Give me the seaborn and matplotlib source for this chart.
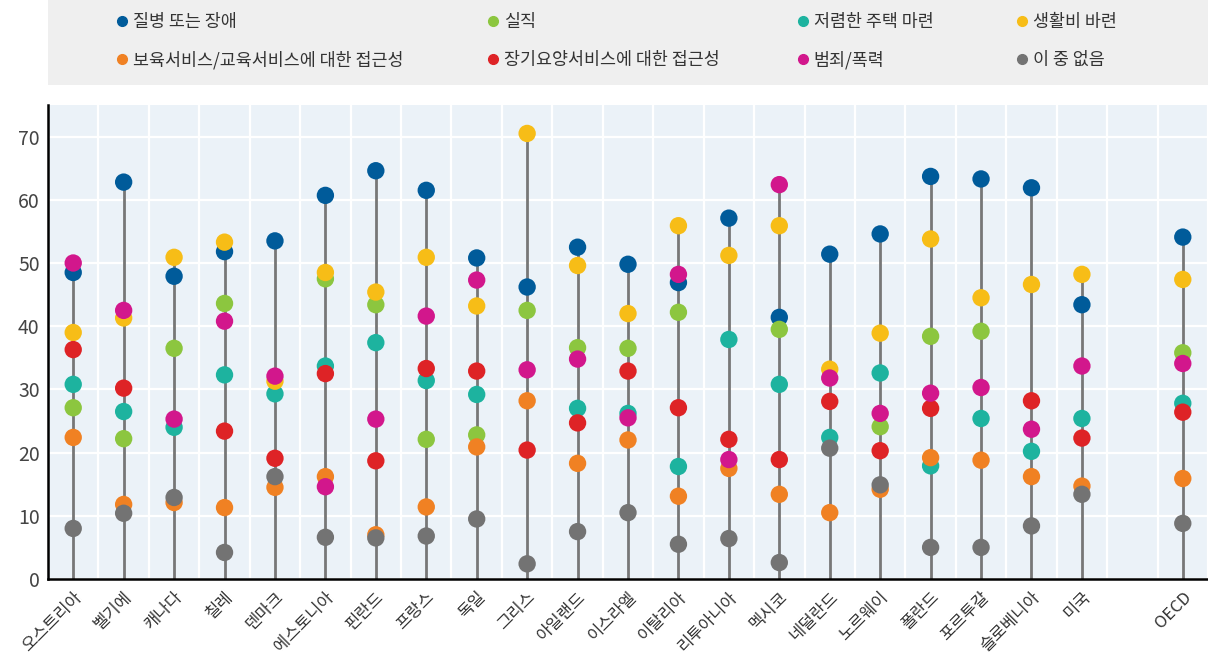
import numpy as np
import pandas as pd
import matplotlib
matplotlib.use("Agg")
import matplotlib.pyplot as plt
from matplotlib.lines import Line2D
from matplotlib.patches import Rectangle
import seaborn as sns

# ------------------------------
# DATA
# ------------------------------
countries = ["오스트리아", "벨기에", "캐나다", "칠레", "덴마크", "에스토니아", "핀란드",
             "프랑스", "독일", "그리스", "아일랜드", "이스라엘", "이탈리아", "리투아니아",
             "멕시코", "네덜란드", "노르웨이", "폴란드", "포르투갈", "슬로베니아", "미국", "OECD"]

items = ["질병 또는 장애", "실직", "저렴한 주택 마련", "생활비 바련",
         "보육서비스/교육서비스에 대한 접근성", "장기요양서비스에 대한 접근성", "범죄/폭력", "이 중 없음"]

colors = ["#005b9a", "#8cc63f", "#1db39f", "#f7bd17", "#f08123", "#de2326", "#d2178c", "#737373"]

nan = np.nan
illness = [48.5, 62.8, 47.9, 51.8, 53.5, 60.7, 64.6, 61.5, 50.8, 46.2, 52.5, 49.8, 46.9, 57.1,
           41.4, 51.4, 54.6, 63.7, 63.3, 61.9, 43.4, 54.1]
jobless = [27.1, 22.2, 36.5, 43.6, nan, 47.5, 43.4, 22.1, 22.8, 42.5, 36.6, 36.5, 42.2, nan,
           39.5, nan, 24.1, 38.4, 39.2, nan, nan, 35.8]
housing = [30.8, 26.5, 24.0, 32.3, 29.3, 33.7, 37.4, 31.4, 29.2, nan, 27.0, 26.2, 17.8, 37.9,
           30.8, 22.4, 32.6, 17.9, 25.4, 20.2, 25.4, 27.8]
living = [39.0, 41.3, 50.9, 53.3, 31.3, 48.5, 45.4, 50.9, 43.2, 70.5, 49.6, 42.0, 55.9, 51.2,
          55.9, 33.2, 38.9, 53.8, 44.5, 46.6, 48.2, 47.4]
childcare = [22.4, 11.8, 12.1, 11.3, 14.5, 16.2, 7.0, 11.4, 20.9, 28.2, 18.3, 22.0, 13.1, 17.5,
             13.4, 10.5, 14.2, 19.2, 18.8, 16.2, 14.7, 15.9]
longterm = [36.3, 30.2, nan, 23.4, 19.1, 32.5, 18.7, 33.3, 32.9, 20.4, 24.7, 32.9, 27.1, 22.1,
            18.9, 28.1, 20.3, 27.0, nan, 28.2, 22.3, 26.4]
crime = [50.0, 42.5, 25.3, 40.8, 32.1, 14.6, 25.3, 41.6, 47.3, 33.1, 34.8, 25.5, 48.2, 18.9,
         62.4, 31.8, 26.2, 29.4, 30.3, 23.7, 33.7, 34.1]
none_of_these = [8.0, 10.4, 12.9, 4.2, 16.2, 6.6, 6.5, 6.8, 9.5, 2.4, 7.5, 10.5, 5.5, 6.4,
                 2.6, 20.7, 14.9, 5.0, 5.0, 8.4, 13.4, 8.8]

series = [illness, jobless, housing, living, childcare, longterm, crime, none_of_these]

# empty slot between 미국 and OECD
order = countries[:-1] + [""] + countries[-1:]

rows = []
for item, vals in zip(items, series):
    for c, v in zip(countries, vals):
        rows.append({"country": c, "item": item, "value": v})
df = pd.DataFrame(rows).dropna()

# ------------------------------
# STYLE
# ------------------------------
sns.set_style("whitegrid", {"axes.facecolor": "#ebf2f8", "grid.color": "white"})
plt.rcParams["font.family"] = ["Noto Sans CJK KR", "DejaVu Sans"]

fig = plt.figure(figsize=(12.08, 6.63), dpi=100)
ax = fig.add_axes([48 / 1208, 1 - 579 / 663, 1 - 48 / 1208, (579 - 105) / 663])

# stems from 0 to the highest value of each country
top = df.groupby("country")["value"].max()
xpos = [order.index(c) for c in top.index]
ax.vlines(xpos, 0, top.values, color="#777777", lw=2, zorder=2)

sns.stripplot(data=df, x="country", y="value", hue="item", order=order,
              hue_order=items, palette=colors, jitter=False, size=12.5,
              linewidth=0, zorder=3, legend=False, ax=ax)

ax.set_xlim(-0.5, len(order) - 0.5)
ax.set_ylim(0, 75)
ax.set_yticks(range(0, 71, 10))
ax.set_xlabel("")
ax.set_ylabel("")

ax.set_xticks(np.arange(len(order)) + 0.5, minor=True)
ax.grid(False)
ax.grid(axis="y", which="major", color="white", lw=1.6)
ax.grid(axis="x", which="minor", color="white", lw=1.6)
ax.tick_params(axis="x", which="major", length=0, pad=7)
ax.tick_params(axis="x", which="minor", direction="in", length=5, width=1.5, color="black")
ax.tick_params(axis="y", length=0, labelsize=14, labelcolor="#444444", pad=6)
ax.set_xticklabels(order, rotation=45, ha="right", rotation_mode="anchor",
                   fontsize=12, color="#333333")

for s in ["top", "right"]:
    ax.spines[s].set_visible(False)
for s in ["left", "bottom"]:
    ax.spines[s].set_color("black")
    ax.spines[s].set_linewidth(1.8)

# ------------------------------
# LEGEND (grey band on top)
# ------------------------------
fig.patches.append(Rectangle((48 / 1208, 1 - 85 / 663), 1 - 48 / 1208, 85 / 663,
                             transform=fig.transFigure, facecolor="#efefef",
                             edgecolor="none", zorder=0))

col_x = [117, 488, 798, 1017]
for j, x in enumerate(col_x):
    handles = []
    labels = []
    for k in (j, j + 4):
        handles.append(Line2D([], [], ls="", marker="o", ms=7, color=colors[k]))
        labels.append(items[k])
    fig.legend(handles, labels, loc="upper left", bbox_to_anchor=(x / 1208, 1 - 13 / 663),
               frameon=False, fontsize=12.5, labelcolor="#333333", handlelength=0.6,
               handletextpad=0.3, labelspacing=1.15, borderpad=0, borderaxespad=0)

fig.savefig("out.png", dpi=100)
